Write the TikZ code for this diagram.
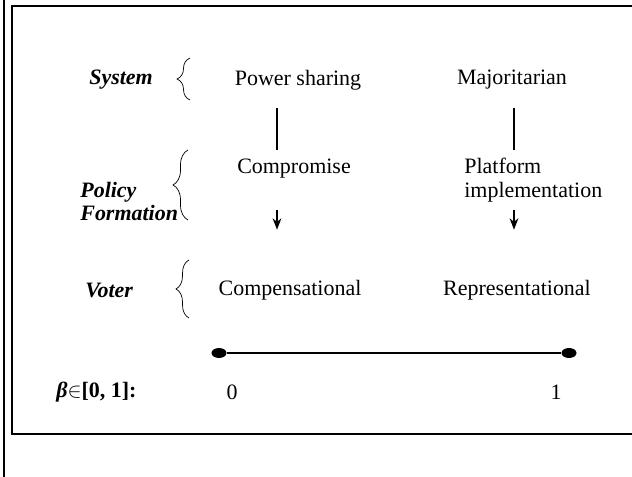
\documentclass[tikz,border=0pt]{standalone}
\usepackage{amsmath}
\usepackage{amssymb}
\usepackage{fontspec}
\setmainfont{Liberation Serif}
\usepackage{tikz}
\usetikzlibrary{positioning, shapes.geometric, arrows.meta, decorations.pathreplacing}
\newcommand{\lab}[1]{\textbf{\textit{#1}}}

\begin{document}
\begin{tikzpicture}[
        every node/.style={inner sep=0pt, font=\fontsize{12.5}{13.5}\selectfont},
        brace/.style={decorate, decoration={brace, amplitude=#1}},
        arr/.style={-{Stealth[length=6.5pt, width=5pt]}},
        dot/.style={ellipse, fill, minimum width=0.3cm, minimum height=0.2cm}]
            \useasboundingbox (0, 0) rectangle (12.64, 9.54);

            % frame
            \draw [line width=0.7pt] (0.08, 0) -- (0.08, 9.54);
            \draw [line width=0.8pt] (12.64, 9.42) -- (0.24, 9.42) -- (0.24, 0.86) -- (12.64, 0.86);

            \coordinate (c1) at (5.54, 0);
            \coordinate (c2) at (10.28, 0);

            % row labels
            \node [anchor=west] (sys) at (1.78, 7.94) {\lab{System}};
            \node [anchor=west, align=left] (pol) at (1.6, 5.51) {\lab{Policy}\\\lab{Formation}};
            \node [anchor=west] (vot) at (1.7, 3.74) {\lab{Voter}};
            \node [anchor=west] (beta) at (1.12, 1.7) {\lab{β}$\in$\textbf{[0, 1]:}};

            \draw [brace=0.26cm] (3.8, 7.54) -- (3.8, 8.38);
            \draw [brace=0.3cm] (3.76, 5.14) -- (3.76, 6.54);
            \draw [brace=0.26cm] (3.78, 3.18) -- (3.78, 4.34);

            % two columns
            \node (ps) at (5.96, 7.94) {Power sharing};
            \node (maj) at (10.24, 7.94) {Majoritarian};
            \node (comp) at (5.88, 6.16) {Compromise};
            \node [anchor=north west, align=left] (plat) at (9.28, 6.38) {Platform\\implementation};
            \node (cmp) at (5.8, 3.74) {Compensational};
            \node (rep) at (10.34, 3.74) {Representational};

            \draw [line width=0.6pt, shorten <=0.36cm, shorten >=0.18cm] (ps.south -| c1) -- (comp.north -| c1);
            \draw [line width=0.6pt, shorten <=0.36cm, shorten >=0.16cm] (maj.south -| c2) -- (plat.north -| c2);
            \draw [arr, line width=0.6pt, shorten <=0.62cm, shorten >=1.0cm] (comp.south -| c1) -- (cmp.north -| c1);
            \draw [arr, line width=0.6pt, shorten <=0.14cm, shorten >=1.0cm] (plat.south -| c2) -- (rep.north -| c2);

            % the beta scale
            \node [dot] (d0) at (4.38, 2.48) {};
            \node [dot] (d1) at (11.38, 2.48) {};
            \draw [line width=1.6pt] (d0) -- (d1);
            \node (zero) at (4.64, 1.7) {0};
            \node (one) at (11.12, 1.7) {1};
        \end{tikzpicture}
\end{document}
